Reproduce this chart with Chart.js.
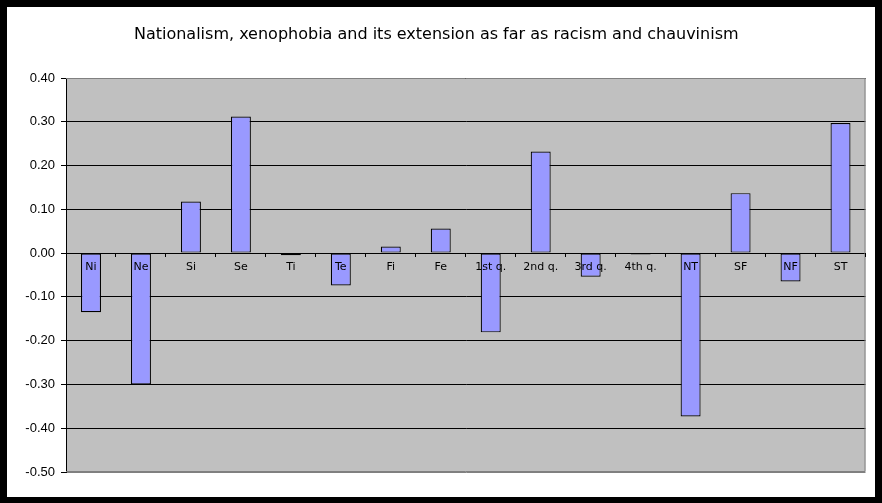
<!DOCTYPE html>
<html>
<head>
<meta charset="utf-8">
<script src="https://cdn.jsdelivr.net/npm/chart.js@4"></script>
<style>
  html, body { margin: 0; padding: 0; background: #000; }
  #wrap { position: absolute; left: 7px; top: 7px; width: 868px; height: 490px; background: #fff; }
  canvas { display: block; }
</style>
</head>
<body>
<div id="wrap"><canvas id="c" width="868" height="490"></canvas></div>
<script>
const titleText = 'Nationalism, xenophobia and its extension as far as racism and chauvinism';
const categories = ['Ni', 'Ne', 'Si', 'Se', 'Ti', 'Te', 'Fi', 'Fe', '1st q.', '2nd q.', '3rd q.', '4th q.', 'NT', 'SF', 'NF', 'ST'];
const values = [-0.135, -0.300, 0.118, 0.312, -0.005, -0.074, 0.015, 0.056, -0.181, 0.232, -0.054, -0.003, -0.373, 0.137, -0.065, 0.297];
const yMin = -0.5;
const yMax = 0.4;
const yStep = 0.1;

const plotBg = {
  id: 'plotBg',
  beforeDraw(chart) {
    const { ctx, chartArea: a } = chart;
    ctx.save();
    ctx.fillStyle = '#C0C0C0';
    ctx.fillRect(a.left, a.top, a.right - a.left, a.bottom - a.top);
    ctx.restore();
  },
  afterDatasetsDraw(chart) {
    const { ctx, chartArea: a } = chart;
    ctx.save();
    ctx.strokeStyle = '#808080';
    ctx.lineWidth = 1;
    ctx.beginPath();
    ctx.moveTo(a.left, a.top + 0.5);
    ctx.lineTo(a.right - 0.5, a.top + 0.5);
    ctx.lineTo(a.right - 0.5, a.bottom - 0.5);
    ctx.lineTo(a.left, a.bottom - 0.5);
    ctx.stroke();
    ctx.restore();
  }
};

new Chart(document.getElementById('c'), {
  type: 'bar',
  data: {
    labels: categories,
    datasets: [{
      data: values,
      backgroundColor: '#9999FF',
      borderColor: '#000000',
      borderWidth: 1.2,
      borderSkipped: false,
      barPercentage: 0.4,
      categoryPercentage: 1.0
    }]
  },
  options: {
    responsive: false,
    animation: false,
    layout: { padding: { left: 0, right: 9.5, top: 0, bottom: 25 } },
    plugins: {
      legend: { display: false },
      tooltip: { enabled: false },
      title: {
        display: true,
        text: titleText,
        color: '#000',
        font: { family: 'DejaVu Sans', size: 16, weight: 'normal', lineHeight: 1.2 },
        padding: { top: 18, bottom: 33.8 }
      }
    },
    scales: {
      x: {
        position: { y: 0 },
        offset: true,
        grid: {
          display: true,
          drawOnChartArea: false,
          drawTicks: true,
          tickLength: 4,
          color: '#000',
          offset: true,
          z: 1
        },
        border: { display: false },
        ticks: {
          z: 2,
          color: '#000',
          font: { family: 'DejaVu Sans', size: 11 },
          padding: 3,
          maxRotation: 0,
          autoSkip: false
        }
      },
      y: {
        min: yMin,
        max: yMax,
        afterFit(scale) { scale.width = 59; },
        grid: {
          color: (ctx) => (ctx.tick && Math.abs(ctx.tick.value - yMin) < 1e-9) ? '#808080' : '#000',
          lineWidth: 1,
          tickLength: 5,
          tickColor: '#000',
          drawTicks: true
        },
        border: { display: true, color: '#000' },
        ticks: {
          stepSize: yStep,
          color: '#000',
          padding: 6,
          font: { family: 'Liberation Sans', size: 13 },
          callback: (v) => Number(v).toFixed(2)
        }
      }
    }
  },
  plugins: [plotBg]
});
</script>
</body>
</html>
